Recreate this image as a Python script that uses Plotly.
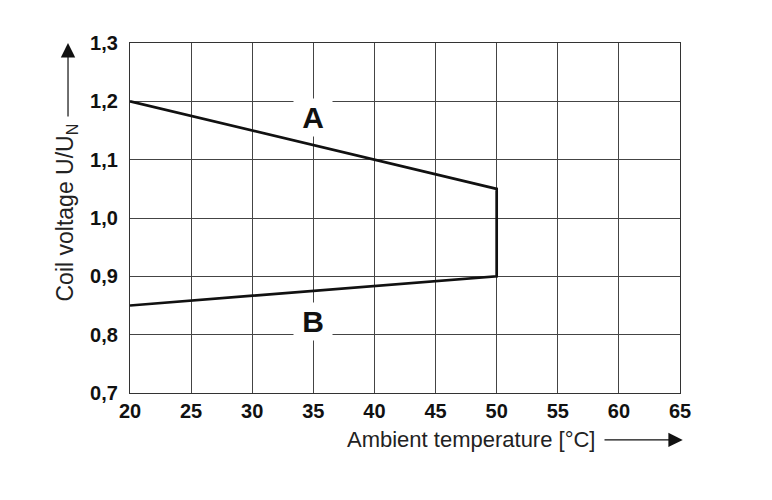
import plotly.graph_objects as go

# curve A (upper limit) and B (lower limit), joined at 50 °C
temp_a = [20, 50]
volt_a = [1.2, 1.05]
temp_b = [50, 20]
volt_b = [0.9, 0.85]

x_ticks = [20, 25, 30, 35, 40, 45, 50, 55, 60, 65]
y_ticks = [0.7, 0.8, 0.9, 1.0, 1.1, 1.2, 1.3]
y_ticktext = ["0,7", "0,8", "0,9", "1,0", "1,1", "1,2", "1,3"]

fig = go.Figure()
fig.add_trace(go.Scatter(
    x=temp_a + temp_b, y=volt_a + volt_b,
    mode="lines", line=dict(color="#111111", width=2.7),
    showlegend=False, hoverinfo="skip"))

lbl = dict(size=30, color="#111111", family="Liberation Sans", weight="bold")
fig.add_annotation(x=35, y=1.172, text="<b>A</b>", showarrow=False,
                   bgcolor="white", font=lbl, width=36, height=35)
fig.add_annotation(x=35, y=0.822, text="<b>B</b>", showarrow=False,
                   bgcolor="white", font=lbl, width=36, height=35)

# axis titles with arrows
dom = dict(xref="x domain", yref="y domain")
fig.add_annotation(**dom, x=-0.115, y=0.515, xanchor="center", yanchor="middle",
                   text="Coil voltage U/U<sub>N</sub>", textangle=-90,
                   showarrow=False,
                   font=dict(size=23, color="#222222", family="Liberation Sans"))
fig.add_annotation(**dom, x=-0.1127, y=1.0,
                   ax=-0.1127, ay=0.786, axref="x domain", ayref="y domain",
                   text="", showarrow=True, arrowhead=2, arrowsize=2.4,
                   arrowwidth=1.2, arrowcolor="#111111")
fig.add_annotation(**dom, x=0.849, y=-0.134, xanchor="right", yanchor="middle",
                   text="Ambient temperature [°C]", showarrow=False,
                   font=dict(size=22, color="#222222", family="Liberation Sans"))
fig.add_annotation(**dom, x=1.005, y=-0.134,
                   ax=0.86, ay=-0.134, axref="x domain", ayref="y domain",
                   text="", showarrow=True, arrowhead=2, arrowsize=2.4,
                   arrowwidth=1.2, arrowcolor="#111111")

tick_font = dict(size=20, color="#111111", family="Liberation Sans", weight="bold")
fig.update_xaxes(range=[20, 65], tickvals=x_ticks, tickfont=tick_font,
                 showgrid=True, gridcolor="#444444", gridwidth=1,
                 showline=True, linecolor="#333333", linewidth=1.2, mirror=True,
                 zeroline=False, ticks="", ticklabelstandoff=0)
fig.update_yaxes(range=[0.7, 1.3], tickvals=y_ticks, ticktext=y_ticktext,
                 tickfont=tick_font, showgrid=True, gridcolor="#444444",
                 gridwidth=1, showline=True, linecolor="#333333",
                 linewidth=1.2, mirror=True, zeroline=False, ticks="",
                 ticklabelstandoff=7)

# page body adds an 8px margin, so the figure is trimmed to fit the window
fig.update_layout(width=764, height=492, plot_bgcolor="white",
                  paper_bgcolor="white",
                  margin=dict(l=122, r=92, t=35, b=107))

fig.write_html("out.html")
